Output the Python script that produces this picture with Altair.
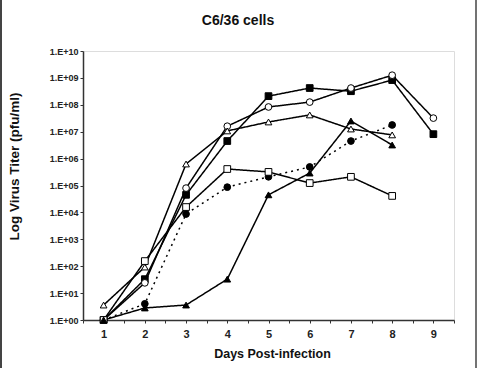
import altair as alt
import pandas as pd

# Virus titers (pfu/ml) in C6/36 cells, one list per strain
days = [1, 2, 3, 4, 5, 6, 7, 8, 9]
filled_square = [1, 3.3e1, 4.5e4, 4.5e6, 2.1e8, 4.2e8, 3.2e8, 8.3e8, 8.1e6]
open_circle = [1, 2.4e1, 8.0e4, 1.6e7, 8.3e7, 1.26e8, 4.2e8, 1.26e9, 3.2e7]
open_triangle = [3.6, 9.3e1, 6.3e5, 1.07e7, 2.3e7, 4.2e7, 1.26e7, 7.6e6]
filled_circle = [1, 4.0, 8.7e3, 8.7e4, 2.1e5, 4.9e5, 4.5e6, 1.78e7]
open_square = [1, 1.55e2, 1.58e4, 4.1e5, 3.2e5, 1.23e5, 2.1e5, 4.1e4]
filled_triangle = [1, 2.8, 3.6, 3.3e1, 4.5e4, 2.9e5, 2.5e7, 3.2e6]

series = {
    "S1": filled_square,
    "S2": open_circle,
    "S3": open_triangle,
    "S4": filled_circle,
    "S5": open_square,
    "S6": filled_triangle,
}
shapes = ["square", "circle", "triangle-up", "circle", "square", "triangle-up"]
fills = ["black", "white", "white", "black", "white", "black"]
dashes = [[1, 0], [1, 0], [1, 0], [2, 4], [1, 0], [1, 0]]

rows = []
for name, vals in series.items():
    for d, v in zip(days, vals):
        rows.append({"day": d, "titer": v, "strain": name})
df = pd.DataFrame(rows)
names = list(series.keys())

x_scale = alt.Scale(domain=[0.5, 9.5], nice=False, zero=False)
y_scale = alt.Scale(type="log", domain=[1, 1e10], nice=False)

# main x axis: labelled whole days
x_main = alt.X(
    "day:Q",
    scale=x_scale,
    axis=alt.Axis(
        orient="bottom",
        values=days,
        format="d",
        labelOverlap=False,
        labelFlush=False,
        grid=False,
        tickSize=3,
        tickColor="#333",
        domainColor="#333",
        domainWidth=1.5,
        labelFont="Liberation Sans",
        labelFontWeight="bold",
        labelFontSize=11,
        labelColor="#222",
        labelPadding=5,
        title="Days Post-infection",
        titleFont="Liberation Sans",
        titleFontWeight="bold",
        titleFontSize=12.5,
        titleColor="#111",
        titleX=189,
        titleY=33,
        titleAlign="center",
        titleBaseline="middle",
    ),
)
# secondary x axis: unlabelled half-day ticks
x_half = alt.X(
    "day:Q",
    scale=x_scale,
    axis=alt.Axis(
        orient="bottom",
        values=[0.5 + i for i in range(10)],
        labels=False,
        domain=False,
        grid=False,
        tickSize=3,
        tickColor="#333",
        title=None,
    ),
)
y_enc = alt.Y(
    "titer:Q",
    scale=y_scale,
    axis=alt.Axis(
        values=[10 ** i for i in range(11)],
        labelExpr="'1.E+' + (round(log(datum.value) / LN10) < 10 ? '0' : '') + round(log(datum.value) / LN10)",
        labelOverlap=False,
        grid=False,
        tickSize=3,
        tickColor="#333",
        domainColor="#333",
        domainWidth=1.5,
        labelFont="Liberation Sans",
        labelFontWeight="bold",
        labelFontSize=9,
        labelColor="#222",
        labelPadding=2,
        title="Log Virus Titer (pfu/ml)",
        titleFont="Liberation Sans",
        titleFontWeight="bold",
        titleFontSize=13.5,
        titleColor="#111",
        titleX=-69,
        titleY=115,
        titleAngle=-90,
        titleAlign="center",
        titleBaseline="middle",
    ),
)

base = alt.Chart(df)

lines = base.mark_line(color="black", strokeWidth=1.5).encode(
    x=x_main,
    y=y_enc,
    detail="strain:N",
    strokeDash=alt.StrokeDash(
        "strain:N", scale=alt.Scale(domain=names, range=dashes), legend=None
    ),
)

points = base.mark_point(stroke="black", strokeWidth=1, opacity=1, size=45).encode(
    x=x_half,
    y="titer:Q",
    shape=alt.Shape("strain:N", scale=alt.Scale(domain=names, range=shapes), legend=None),
    fill=alt.Fill("strain:N", scale=alt.Scale(domain=names, range=fills), legend=None),
)

# thin frame lines at the left and right edges of the figure
frame = pd.DataFrame({"edge": ["left", "right"]})
left_edge = alt.Chart(frame.iloc[[0]]).mark_rule(color="#444", strokeWidth=2).encode(
    x=alt.value(-82), y=alt.value(-51), y2=alt.value(317)
)
right_edge = alt.Chart(frame.iloc[[1]]).mark_rule(color="#444", strokeWidth=1.5).encode(
    x=alt.value(393), y=alt.value(-51), y2=alt.value(317)
)

# chart heading
heading = alt.Chart(pd.DataFrame({"label": ["C6/36 cells"]})).mark_text(
    font="Liberation Sans",
    fontWeight="bold",
    fontSize=14,
    color="#111",
    align="center",
    baseline="middle",
).encode(text="label:N", x=alt.value(155), y=alt.value(-30))

chart = (
    alt.layer(lines, points, left_edge, right_edge, heading)
    .resolve_axis(x="independent")
    .properties(
        width=371,
        height=269,
        autosize=alt.AutoSizeParams(type="none"),
        padding={"left": 83, "top": 51, "right": 28, "bottom": 48},
    )
    .configure_view(stroke=None)
    .configure(background="white")
)

chart.save("out.html", embed_options={"renderer": "svg", "actions": False})
